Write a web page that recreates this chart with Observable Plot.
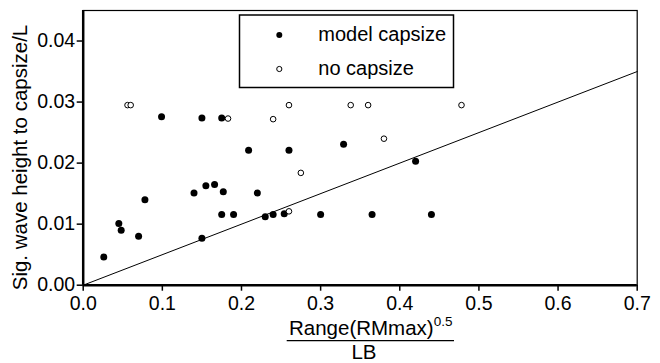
<!DOCTYPE html>
<html><head><meta charset="utf-8">
<script src="https://cdn.jsdelivr.net/npm/d3@7"></script>
<script src="https://cdn.jsdelivr.net/npm/@observablehq/plot@0.6"></script>
<style>body{margin:0;background:#fff}</style>
</head><body><div id="chart"></div>
<script>
// Data
const capX = [0.026,0.045,0.048,0.070,0.078,0.099,0.140,0.150,0.150,0.155,0.166,0.175,0.177,0.175,0.190,0.209,0.220,0.230,0.240,0.254,0.260,0.300,0.329,0.365,0.420,0.440];
const capY = [0.0046,0.0101,0.0090,0.0080,0.0140,0.0276,0.0151,0.0274,0.0077,0.0163,0.0165,0.0274,0.0153,0.0116,0.0116,0.0221,0.0151,0.0112,0.0116,0.0117,0.0221,0.0116,0.0231,0.0116,0.0203,0.0116];
const noX = [0.056,0.060,0.183,0.240,0.260,0.260,0.275,0.338,0.360,0.380,0.478];
const noY = [0.0295,0.0295,0.0273,0.0272,0.0295,0.0121,0.0184,0.0295,0.0295,0.0240,0.0295];
const lineX = [0, 0.7];
const lineY = [0, 0.035];
const xTicks = [0,0.1,0.2,0.3,0.4,0.5,0.6,0.7];
const yTicks = [0,0.01,0.02,0.03,0.04];
const seriesNames = ["model capsize","no capsize"];
const yLabel = "Sig. wave height to capsize/L";
const xLabelNum = "Range(RMmax)";
const xLabelSup = "0.5";
const xLabelDen = "LB";

const cap = capX.map((x,i)=>({x, y:capY[i]}));
const no = noX.map((x,i)=>({x, y:noY[i]}));
const fit = lineX.map((x,i)=>({x, y:lineY[i]}));

const font = "'Liberation Sans', Arial, Helvetica, sans-serif";
const mL=82.7, mR=23.3, mT=10, mB=78.3;

const svg = Plot.plot({
  width:660, height:363,
  marginLeft:mL, marginRight:mR, marginTop:mT, marginBottom:mB,
  style:{fontFamily:font, fontSize:"19.5px", color:"#000", background:"#fff", overflow:"visible"},
  x:{domain:[0,0.7]},
  y:{domain:[0,0.045]},
  marks:[
    Plot.frame({stroke:"#000", strokeWidth:1.2}),
    Plot.line(fit,{x:"x", y:"y", stroke:"#000", strokeWidth:1}),
    Plot.ruleX([0],{stroke:"#000", strokeWidth:2.5}),
    Plot.ruleY([0],{stroke:"#000", strokeWidth:2.5}),
    Plot.axisX({ticks:xTicks, tickFormat:d3.format(".1f"), tickSize:6, tickPadding:5, strokeWidth:1.5, label:null, fontSize:19.5}),
    Plot.axisY({ticks:yTicks, tickFormat:d3.format(".2f"), tickSize:6, tickPadding:2, strokeWidth:1.5, label:null, fontSize:19.5}),
    Plot.dot(cap,{x:"x", y:"y", r:3.5, fill:"#000", stroke:"none"}),
    Plot.dot(no,{x:"x", y:"y", r:2.8, fill:"#fff", stroke:"#000", strokeWidth:1})
  ]
});

const s = d3.select(svg);
// Legend
const lg = s.append("g").attr("font-family", font).attr("font-size", 20).attr("text-anchor","start");
lg.append("rect").attr("x",239.5).attr("y",15).attr("width",214).attr("height",72.5)
  .attr("fill","#fff").attr("stroke","#000").attr("stroke-width",1.5);
lg.append("circle").attr("cx",279.3).attr("cy",35).attr("r",3).attr("fill","#000");
lg.append("circle").attr("cx",279.3).attr("cy",69).attr("r",2.6).attr("fill","#fff").attr("stroke","#000").attr("stroke-width",1);
lg.append("text").attr("x",318.3).attr("y",41).attr("text-anchor","start").text(seriesNames[0]);
lg.append("text").attr("x",318.3).attr("y",75).attr("text-anchor","start").text(seriesNames[1]);

// Y label
s.append("text").attr("font-family",font).attr("font-size",20.5)
  .attr("text-anchor","middle")
  .attr("transform","translate(27,157.5) rotate(-90)")
  .text(yLabel);

// X label as fraction
const xl = s.append("g").attr("font-family",font);
const num = xl.append("text").attr("x",289).attr("y",335).attr("font-size",20.5).attr("text-anchor","start");
num.append("tspan").text(xLabelNum);
num.append("tspan").attr("font-size",13.5).attr("dy",-9).text(xLabelSup);
xl.append("line").attr("x1",286.7).attr("x2",454).attr("y1",340.7).attr("y2",340.7).attr("stroke","#000").attr("stroke-width",1.3);
xl.append("text").attr("x",364).attr("y",358.5).attr("font-size",20.5).attr("text-anchor","middle").text(xLabelDen);

document.getElementById("chart").appendChild(svg);
</script>
</body></html>
